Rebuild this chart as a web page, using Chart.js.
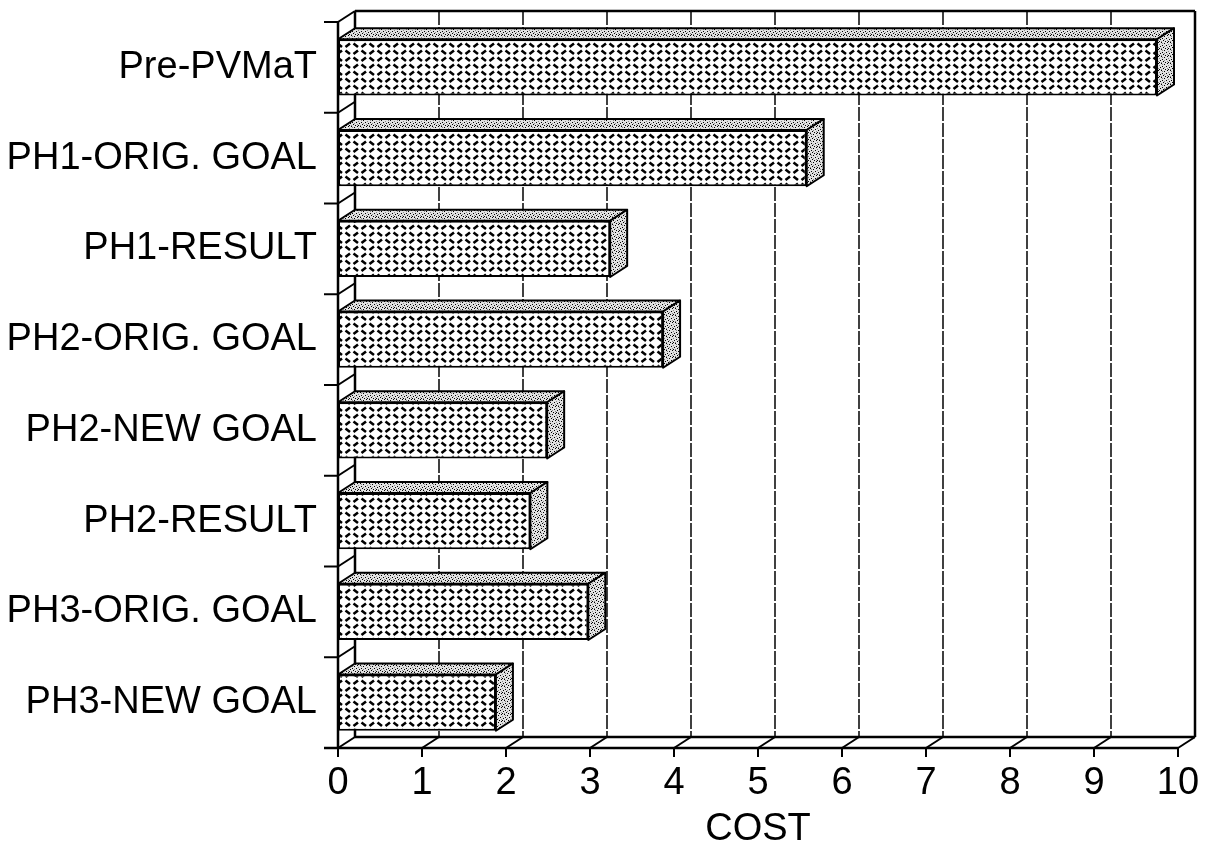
<!DOCTYPE html>
<html>
<head>
<meta charset="utf-8">
<script src="https://cdn.jsdelivr.net/npm/chart.js@4/dist/chart.umd.min.js"></script>
<style>
  body { margin: 0; background: #fff; }
  #costChart { display: block; }
</style>
</head>
<body>
<canvas id="costChart" width="1205" height="848"></canvas>
<script>
const categories = ['Pre-PVMaT', 'PH1-ORIG. GOAL', 'PH1-RESULT', 'PH2-ORIG. GOAL', 'PH2-NEW GOAL', 'PH2-RESULT', 'PH3-ORIG. GOAL', 'PH3-NEW GOAL'];
const costValues = [9.75, 5.58, 3.24, 3.87, 2.49, 2.29, 2.98, 1.88];
const costMin = 0;
const costMax = 10;
const costStep = 1;
const axisTitle = 'COST';

// depth of the fake 3D box
const DX = 17;
const DY = -11;
const FONT = '"Liberation Sans", Arial, Helvetica, sans-serif';

function makeTile(w, h, draw) {
  const c = document.createElement('canvas');
  c.width = w;
  c.height = h;
  draw(c.getContext('2d'));
  return c;
}

// diamond plate texture for the front faces
const plateTile = makeTile(16, 14, g => {
  g.fillStyle = '#fff';
  g.fillRect(0, 0, 16, 14);
  g.strokeStyle = '#000';
  g.lineWidth = 2.6;
  g.beginPath();
  g.moveTo(1.5, 1.5); g.lineTo(6, 5);
  g.moveTo(9.5, 5); g.lineTo(14, 1.5);
  g.moveTo(1.5, 12); g.lineTo(6, 8.5);
  g.moveTo(9.5, 8.5); g.lineTo(14, 12);
  g.stroke();
});

// speckled grey for top and side faces
const speckleTile = makeTile(9, 7, g => {
  g.fillStyle = '#e2e2e2';
  g.fillRect(0, 0, 9, 7);
  g.fillStyle = '#000';
  [[0, 0], [3, 1], [6, 0], [1, 3], [5, 3], [8, 4], [2, 5], [4, 6], [7, 6]].forEach(p => g.fillRect(p[0], p[1], 1, 1));
  g.fillStyle = '#888';
  [[1, 1], [7, 2], [3, 4], [6, 5], [0, 6]].forEach(p => g.fillRect(p[0], p[1], 1, 1));
});

const ctx = document.getElementById('costChart').getContext('2d');
const platePattern = ctx.createPattern(plateTile, 'repeat');
const specklePattern = ctx.createPattern(speckleTile, 'repeat');

function line(g, x1, y1, x2, y2) {
  g.beginPath();
  g.moveTo(x1, y1);
  g.lineTo(x2, y2);
  g.stroke();
}

const boxPlugin = {
  id: 'box3d',
  beforeDatasetsDraw(chart) {
    const g = chart.ctx;
    const { left: L, right: R, top: T, bottom: B } = chart.chartArea;
    const xs = chart.scales.x;
    g.save();

    // back wall grid
    g.lineWidth = 1.6;
    g.strokeStyle = '#111';
    g.setLineDash([14, 2]);
    for (let v = costMin + costStep; v < costMax; v += costStep) {
      const px = xs.getPixelForValue(v) + DX;
      line(g, px, T + DY, px, B + DY);
    }
    g.setLineDash([]);

    g.strokeStyle = '#000';
    g.lineWidth = 2.5;
    // back wall outline
    line(g, L + DX, T + DY, R + DX, T + DY);
    line(g, R + DX, T + DY, R + DX, B + DY);
    line(g, L + DX, T + DY, L + DX, B + DY);
    line(g, L, T, L, B);

    // floor
    line(g, L - 14, B, R, B);
    line(g, L + DX, B + DY, R + DX, B + DY);
    g.lineWidth = 2;
    for (let v = costMin; v <= costMax; v += costStep) {
      const px = xs.getPixelForValue(v);
      line(g, px, B, px + DX, B + DY);
      line(g, px, B, px, B + 9);
    }

    // left wall
    const n = categories.length;
    for (let k = 0; k < n; k++) {
      const py = T + k * (B - T) / n;
      line(g, L - 14, py, L, py);
      line(g, L, py, L + DX, py + DY);
    }
    g.restore();
  },
  afterDatasetsDraw(chart) {
    const g = chart.ctx;
    const meta = chart.getDatasetMeta(0);
    g.save();
    g.strokeStyle = '#000';
    g.lineWidth = 2;
    g.lineJoin = 'round';
    meta.data.forEach(bar => {
      const x0 = bar.base;
      const x1 = bar.x;
      const top = bar.y - bar.height / 2;
      const bot = bar.y + bar.height / 2;

      g.fillStyle = specklePattern;
      g.beginPath();
      g.moveTo(x0, top);
      g.lineTo(x1, top);
      g.lineTo(x1 + DX, top + DY);
      g.lineTo(x0 + DX, top + DY);
      g.closePath();
      g.fill();
      g.stroke();

      g.beginPath();
      g.moveTo(x1, top);
      g.lineTo(x1, bot);
      g.lineTo(x1 + DX, bot + DY);
      g.lineTo(x1 + DX, top + DY);
      g.closePath();
      g.fill();
      g.stroke();
    });
    g.restore();
  }
};

new Chart(ctx, {
  type: 'bar',
  data: {
    labels: categories,
    datasets: [{
      label: 'Cost',
      data: costValues,
      backgroundColor: platePattern,
      borderColor: '#000',
      borderWidth: 2,
      borderSkipped: false,
      barPercentage: 0.62,
      categoryPercentage: 1
    }]
  },
  options: {
    indexAxis: 'y',
    responsive: false,
    animation: false,
    layout: { padding: { top: 22, right: 27, left: 0, bottom: 0 } },
    plugins: {
      legend: { display: false },
      tooltip: { enabled: false }
    },
    scales: {
      x: {
        min: costMin,
        max: costMax,
        grid: { display: false },
        border: { display: false },
        ticks: { stepSize: costStep, color: '#000', padding: 5, font: { family: FONT, size: 38 } },
        title: { display: true, text: axisTitle, color: '#000', padding: { top: 0, bottom: -4 }, font: { family: FONT, size: 38 } },
        afterFit: scale => { scale.height = 100; }
      },
      y: {
        grid: { display: false },
        border: { display: false },
        ticks: { color: '#000', padding: 13, font: { family: FONT, size: 38, lineHeight: 0.4 } },
        afterFit: scale => { scale.width = 338; }
      }
    }
  },
  plugins: [boxPlugin]
});
</script>
</body>
</html>
